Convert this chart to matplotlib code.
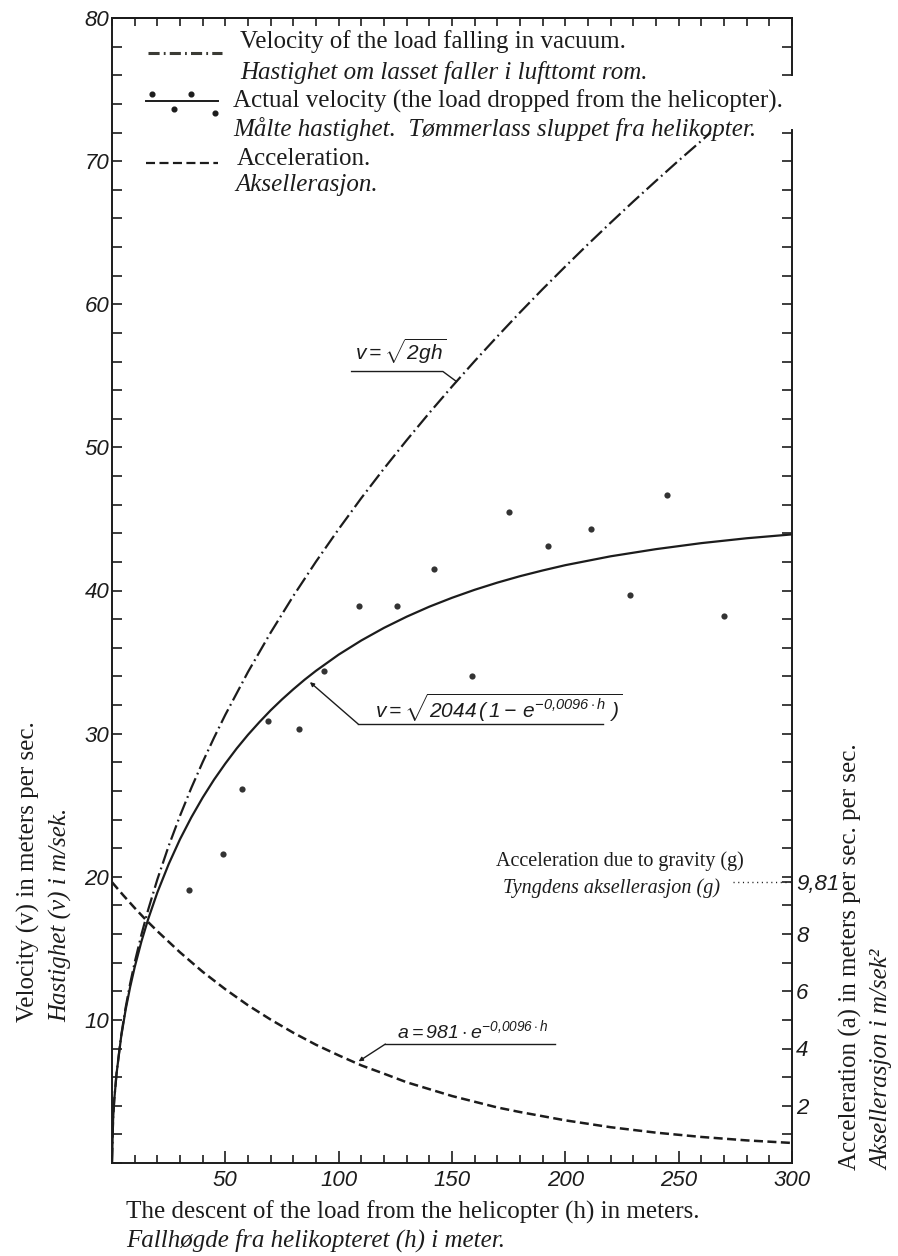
import numpy as np
import matplotlib.pyplot as plt
from matplotlib.lines import Line2D
from matplotlib.ticker import FixedLocator, FixedFormatter, MultipleLocator

plt.rcParams['lines.scale_dashes'] = False
plt.rcParams['mathtext.fontset'] = 'custom'
plt.rcParams['mathtext.rm'] = 'Liberation Sans:italic'
plt.rcParams['mathtext.it'] = 'Liberation Sans:italic'
plt.rcParams['mathtext.sf'] = 'Liberation Sans:italic'

# free fall in vacuum, v = sqrt(2gh)  (m/s)
h_vac = [0, 0.5, 1, 2, 4, 6, 8, 10, 13, 16, 20, 25, 30, 35, 40, 45, 50, 60, 70,
         80, 90, 100, 110, 120, 130, 140, 150, 160, 170, 180, 190, 200, 210, 220,
         230, 240, 250, 264]
v_vac = [0, 3.13, 4.43, 6.26, 8.86, 10.85, 12.53, 14.01, 15.97, 17.72, 19.81,
         22.15, 24.26, 26.21, 28.01, 29.71, 31.32, 34.31, 37.06, 39.62, 42.02,
         44.29, 46.46, 48.52, 50.50, 52.41, 54.25, 56.03, 57.75, 59.43, 61.06,
         62.64, 64.19, 65.70, 67.18, 68.62, 70.04, 71.97]

# fitted velocity of the dropped load
h_fit = [0, 0.5, 1, 2, 4, 6, 8, 10, 13, 16, 20, 25, 30, 35, 40, 45, 50, 55, 60,
         65, 70, 75, 80, 85, 90, 100, 110, 120, 130, 140, 150, 160, 170, 180,
         190, 200, 220, 240, 260, 280, 300]
v_fit = [0, 3.13, 4.42, 6.23, 8.78, 10.70, 12.29, 13.68, 15.49, 17.06, 18.90,
         20.88, 22.62, 24.15, 25.53, 26.78, 27.91, 28.96, 29.92, 30.80, 31.63,
         32.39, 33.10, 33.77, 34.39, 35.52, 36.51, 37.39, 38.17, 38.87, 39.49,
         40.05, 40.55, 41.00, 41.40, 41.77, 42.39, 42.89, 43.31, 43.65, 43.92]

# acceleration (right axis, m/s^2)
h_acc = [0, 5, 10, 15, 20, 30, 40, 50, 60, 70, 80, 90, 100, 110, 120, 130, 140,
         150, 160, 170, 180, 200, 220, 240, 260, 280, 300]
a_acc = [9.81, 9.35, 8.91, 8.49, 8.10, 7.36, 6.68, 6.07, 5.51, 5.01, 4.55, 4.13,
         3.76, 3.41, 3.12, 2.82, 2.58, 2.34, 2.14, 1.94, 1.78, 1.49, 1.25, 1.06,
         0.91, 0.79, 0.70]

# measured velocities
h_meas = [34.1, 48.8, 57.5, 69.0, 82.3, 93.5, 108.9, 125.8, 141.9, 158.9, 175.0,
          192.3, 211.2, 228.6, 244.7, 270.0]
v_meas = [19.1, 21.6, 26.1, 30.9, 30.3, 34.4, 38.9, 38.9, 41.5, 34.0, 45.5,
          43.1, 44.3, 39.7, 46.7, 38.2]

x_major = [50, 100, 150, 200, 250, 300]
y_major = [10, 20, 30, 40, 50, 60, 70, 80]
r_major = [2, 4, 6, 8, 9.81]
r_labels = ['2', '4', '6', '8', '9,81']
r_minor = [t for t in range(1, 40) if t not in (2, 4, 6, 8, 37)]

INK = '#1c1c1c'
W, H = 898, 1256
SERIF = 'Liberation Serif'
SANS = 'Liberation Sans'
FS = 18


def fx(px):
    return px / W


def fy(py):
    return 1 - py / H


fig = plt.figure(figsize=(W / 100, H / 100), dpi=100)
ax = fig.add_axes([fx(112), fy(1163), (792 - 112) / W, (1163 - 18) / H])
ax2 = ax.twinx()

ax.set_xlim(0, 300)
ax.set_ylim(0, 80)
ax2.set_ylim(0, 40)

# curves
ax.plot(h_vac, v_vac, color=INK, lw=1.6, dashes=(11, 3, 1.3, 3))
ax.plot(h_fit, v_fit, color=INK, lw=1.6)
ax2.plot(h_acc, a_acc, color=INK, lw=1.8, dashes=(6.5, 3.2))
ax.scatter(h_meas, v_meas, s=20, color='#333333', zorder=5, lw=0)

# g marker
ax2.plot([274, 299], [9.81, 9.81], color=INK, lw=1, dashes=(0.8, 2.6))

# spines and ticks
for a in (ax, ax2):
    for s in a.spines.values():
        s.set_linewidth(1.4)
        s.set_color(INK)
ax.spines['right'].set_visible(False)
for s in ax2.spines.values():
    s.set_visible(False)
ax2.plot([1, 1], [0, 0.902], transform=ax2.transAxes, clip_on=False, color=INK, lw=1.4)
ax2.plot([1, 1], [0.95, 1.0], transform=ax2.transAxes, clip_on=False, color=INK, lw=1.4)

ax.xaxis.set_major_locator(FixedLocator(x_major))
ax.xaxis.set_minor_locator(MultipleLocator(10))
ax.yaxis.set_major_locator(FixedLocator(y_major))
ax.yaxis.set_minor_locator(MultipleLocator(2))
ax.tick_params(which='both', direction='in', color=INK, width=1.2, labelcolor=INK)
ax.tick_params(axis='x', which='major', length=8.6, pad=5)
ax.tick_params(axis='x', which='minor', length=5.8)
ax.tick_params(axis='y', which='both', length=7.5, pad=2)

ax2.yaxis.set_major_locator(FixedLocator(r_major))
ax2.yaxis.set_major_formatter(FixedFormatter(r_labels))
ax2.yaxis.set_minor_locator(FixedLocator(r_minor))
ax2.tick_params(which='both', direction='in', length=7.2, width=1.2, color=INK,
                pad=3, labelcolor=INK)

top = ax.secondary_xaxis('top')
top.xaxis.set_major_locator(MultipleLocator(10))
top.tick_params(direction='in', length=5.8, width=1.2, color=INK, labeltop=False)
top.spines['top'].set_linewidth(1.4)

for lab in ax.get_xticklabels() + ax.get_yticklabels() + ax2.get_yticklabels():
    lab.set_fontfamily(SANS)
    lab.set_fontstyle('italic')
    lab.set_fontsize(16)

# formula call-outs
ax.plot([105.7, 146.0, 152.0], [55.3, 55.3, 54.6], color=INK, lw=1)
ax.text(107, 55.7, r'$v=\sqrt{2gh}$', fontsize=15, color=INK, ha='left', va='bottom')

ax.plot([216.7, 108.6], [30.67, 30.67], color=INK, lw=1)
ax.annotate('', xy=(87.3, 33.6), xytext=(108.6, 30.67),
            arrowprops=dict(arrowstyle='-|>', mutation_scale=6, lw=1, color=INK,
                            shrinkA=0, shrinkB=0))
ax.text(116, 31.1, r'$v=\sqrt{2044\,(\,1-\,e^{-0{,}0096\cdot h}\ )}$', fontsize=15,
        color=INK, ha='left', va='baseline')

ax.plot([195.4, 120.6], [8.31, 8.31], color=INK, lw=1)
ax.annotate('', xy=(108.8, 7.1), xytext=(120.6, 8.31),
            arrowprops=dict(arrowstyle='-|>', mutation_scale=6, lw=1, color=INK,
                            shrinkA=0, shrinkB=0))
ax.text(125.7, 8.7, r'$a=981\cdot e^{-0{,}0096\cdot h}$', fontsize=14,
        color=INK, ha='left', va='baseline')

# gravity note
fig.text(fx(496), fy(866), 'Acceleration due to gravity (g)', family=SERIF,
         fontsize=14.5, color=INK, ha='left', va='baseline')
fig.text(fx(503), fy(893), 'Tyngdens aksellerasjon (g)', family=SERIF, style='italic',
         fontsize=14.5, color=INK, ha='left', va='baseline')

# legend drawn by hand
fig.add_artist(Line2D([fx(148), fx(222)], [fy(53), fy(53)], color='#3b3b35', lw=2.2,
                      dashes=(8, 3, 1.3, 3)))
fig.add_artist(Line2D([fx(146), fx(218)], [fy(101), fy(101)], color=INK, lw=1.4))
fig.add_artist(Line2D([fx(151.7), fx(190.7), fx(174), fx(215)],
                      [fy(94.3), fy(94.3), fy(109.3), fy(113.3)], ls='none',
                      marker='o', ms=3.4, color=INK))
fig.add_artist(Line2D([fx(146), fx(218)], [fy(163), fy(163)], color=INK, lw=1.6,
                      dashes=(6.5, 3.2)))

leg_rows = [
    (240, 48, 'Velocity of the load falling in vacuum.', 'normal'),
    (240, 79, 'Hastighet om lasset faller i lufttomt rom.', 'italic'),
    (233, 108, 'Actual velocity (the load dropped from the helicopter).', 'normal'),
    (233, 136, 'Målte hastighet.  Tømmerlass sluppet fra helikopter.', 'italic'),
    (237, 165, 'Acceleration.', 'normal'),
    (235, 191, 'Aksellerasjon.', 'italic'),
]
for x, y, s, st in leg_rows:
    fig.text(fx(x), fy(y), s, family=SERIF, style=st, fontsize=FS, color=INK,
             ha='left', va='baseline')

# axis titles
fig.text(fx(126), fy(1219), 'The descent of the load from the helicopter (h) in meters.',
         family=SERIF, fontsize=FS, color=INK, ha='left', va='baseline')
fig.text(fx(126), fy(1247), 'Fallhøgde fra helikopteret (h) i meter.',
         family=SERIF, style='italic', fontsize=FS, color=INK, ha='left', va='baseline')

fig.text(fx(28), fy(1022), 'Velocity (v) in meters per sec.', family=SERIF,
         fontsize=FS, color=INK, rotation=90, ha='center', va='bottom')
fig.text(fx(61), fy(1022), 'Hastighet (v) i m/sek.', family=SERIF, style='italic',
         fontsize=FS, color=INK, rotation=90, ha='center', va='bottom')

fig.text(fx(850), fy(1170), 'Acceleration (a) in meters per sec. per sec.', family=SERIF,
         fontsize=FS, color=INK, rotation=90, ha='center', va='bottom')
fig.text(fx(882), fy(1170), 'Aksellerasjon i m/sek²', family=SERIF, style='italic',
         fontsize=FS, color=INK, rotation=90, ha='center', va='bottom')

fig.savefig('out.png', dpi=100)
